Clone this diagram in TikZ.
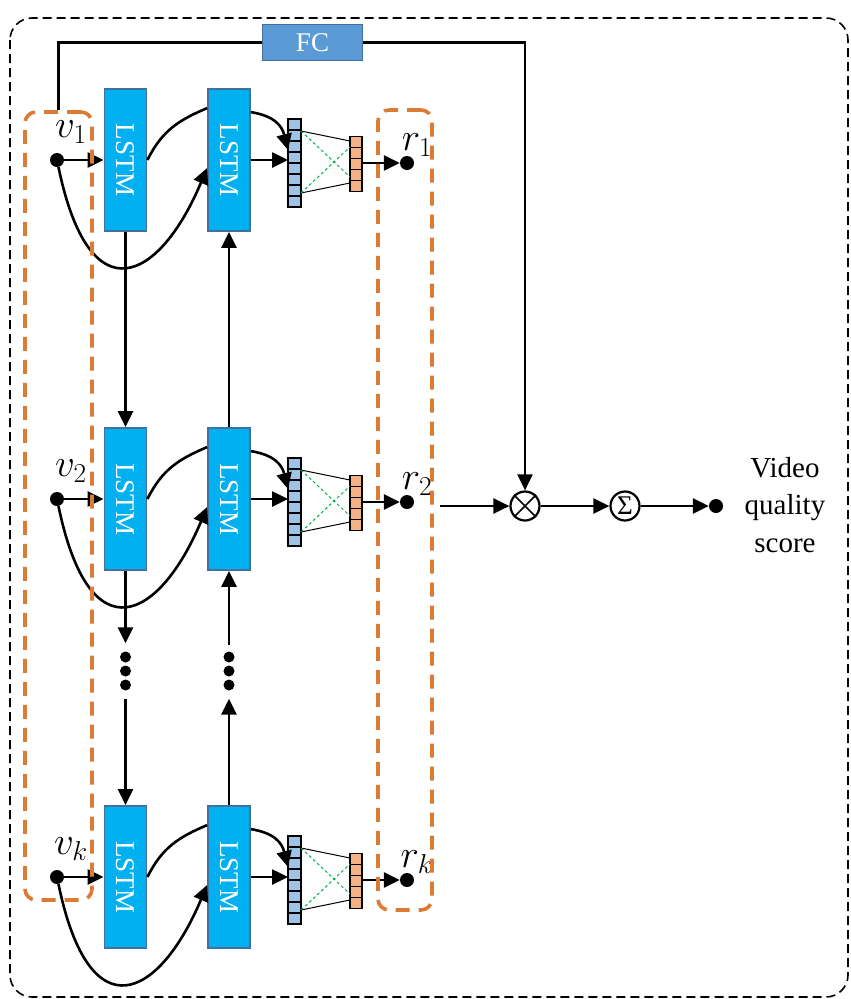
\RequirePackage{fix-cm}
\documentclass[tikz,border=0pt]{standalone}
\usepackage{fontspec}
\setmainfont{Liberation Serif}
\usetikzlibrary{arrows.meta,calc}
\definecolor{lstmfill}{HTML}{00B0F0}
\definecolor{lstmdraw}{HTML}{41719C}
\definecolor{fcfill}{HTML}{5B9BD5}
\definecolor{vecblue}{HTML}{9DC3E6}
\definecolor{vecorange}{HTML}{F4B183}
\definecolor{dashorange}{HTML}{DD7A33}
\definecolor{netgreen}{HTML}{00B050}
\begin{document}
\begin{tikzpicture}[x=1pt,y=-1pt,
  lstm/.style={draw=lstmdraw, line width=1.8pt, fill=lstmfill, minimum width=42pt, minimum height=142pt, inner sep=0pt, text=white, font=\fontsize{27}{27}\selectfont},
  fcbox/.style={draw=lstmdraw, line width=1.5pt, fill=fcfill, minimum width=100pt, minimum height=36pt, inner sep=0pt, text=white, font=\fontsize{27}{27}\selectfont},
  conn/.style={line width=2.6pt, -{Triangle[length=16pt,width=15pt]}},
  wire/.style={line width=2.6pt},
  bigdot/.style={circle, fill=black, inner sep=0pt, minimum size=14pt},
  smalldot/.style={circle, fill=black, inner sep=0pt, minimum size=11pt},
  vecbox/.style={inner sep=0pt, outer sep=0pt},
  cell/.style={draw=black, line width=1.6pt},
  thinline/.style={line width=1pt},
  greendash/.style={draw=netgreen, line width=1pt, dash pattern=on 3pt off 2.5pt},
  obox/.style={draw=dashorange, line width=3.6pt, dash pattern=on 14pt off 9pt, rounded corners=11pt, inner sep=0pt},
  mathlbl/.style={font=\fontsize{30}{30}\selectfont, inner sep=0pt},
  opcircle/.style={circle, draw=black, line width=2.2pt, minimum size=29pt, inner sep=0pt}
]
\useasboundingbox (0,0) rectangle (851,999);
\draw[line width=1.6pt, dash pattern=on 9pt off 5pt, rounded corners=22pt] (10,18) rectangle (848,997);

\foreach \r/\c/\vn/\rn in {1/160/v_1/r_1, 2/499/v_2/r_2, 3/877/v_k/r_k} {
  \node[lstm] (L\r1) at (125.5,\c) {\rotatebox{-90}{LSTM}};
  \node[lstm] (L\r2) at (229,\c) {\rotatebox{-90}{LSTM}};
  \node[bigdot] (V\r) at (57,\c) {};
  \node[mathlbl] (VL\r) at (71,{\c-28}) {\scalebox{1.3}{$\vn$}};
  \node[vecbox, minimum width=13pt, minimum height=88pt] (B\r) at (294.5,{\c+3}) {};
  \foreach \i in {0,...,7} \draw[cell, fill=vecblue] (288,{\c+3-44+11*\i}) rectangle ++(13,11);
  \node[vecbox, minimum width=12pt, minimum height=55pt] (O\r) at (356,{\c+4}) {};
  \foreach \i in {0,...,4} \draw[cell, fill=vecorange] (350,{\c+4-27.5+11*\i}) rectangle ++(12,11);
  \draw[thinline] ($(B\r.north east)+(0,12)$) -- ($(O\r.north west)+(0,4.5)$);
  \draw[thinline] ($(B\r.south east)+(0,-14)$) -- ($(O\r.south west)+(0,-8.5)$);
  \draw[greendash] ($(B\r.north east)+(0,12)$) -- ($(O\r.south west)+(0,-14.5)$);
  \draw[greendash] ($(B\r.south east)+(0,-14)$) -- ($(O\r.north west)+(0,10.5)$);
  \node[bigdot] (R\r) at (407,{\c+3}) {};
  \node[mathlbl] (RL\r) at (417,{\c-15}) {\scalebox{1.3}{$\rn$}};
  \draw[conn] (V\r) -- (L\r1.west);
  \draw[conn] (L\r2.east) -- (L\r2.east -| B\r.west);
  \draw[conn] (O\r.east |- R\r) -- (R\r);
  \draw[wire] (L\r1.east) .. controls +(15,-30) and +(-28,12) .. ($(L\r2.north west)+(0,20)$);
  \draw[conn] ($(L\r2.north east)+(0,24)$) .. controls +(24,4) and +(-6,-24) .. ($(B\r.west)+(0,-13)$);
  \draw[conn] (V\r) .. controls +(33,159) and +(-47,112) .. ($(L\r2.west)+(0,8)$);
}

\foreach \y [count=\k] in {657,671,685} {
  \node[smalldot] (DA\k) at (125.5,\y) {};
  \node[smalldot] (DB\k) at (229,\y) {};
}
\draw[conn] (L11.south) -- (L21.north);
\draw[conn] (L21.south) -- ($(DA1.north)+(0,-8)$);
\draw[conn] ($(DA3.south)+(0,8)$) -- (L31.north);
\draw[conn] (L32.north) -- ($(DB3.south)+(0,8)$);
\draw[conn] ($(DB1.north)+(0,-6)$) -- (L22.south);
\draw[conn] (L22.north) -- (L12.south);

\node[opcircle] (MUL) at (525,506) {};
\draw[line width=1.6pt] (MUL.north east) -- (MUL.south west) (MUL.north west) -- (MUL.south east);
\node[opcircle, font=\fontsize{27}{27}\selectfont] (SUM) at (625,506) {\raisebox{1pt}{Σ}};
\node[bigdot] (OUT) at (716,506) {};
\node[align=center, font=\fontsize{29}{37.5}\selectfont] (TXT) at (785,505) {Video\\quality\\score};
\coordinate (IN) at (440,506);
\draw[conn] (IN) -- (MUL);
\draw[conn] (MUL) -- (SUM);
\draw[conn] (SUM) -- (OUT);

\node[obox, minimum width=67pt, minimum height=788pt] (VB) at (58.5,506) {};
\node[obox, minimum width=54pt, minimum height=800pt] (RB) at (405,510) {};

\node[fcbox] (FC) at (312.5,42.5) {FC};
\draw[wire] (VB.north) |- (FC.west);
\draw[conn] (FC.east) -| (MUL.north);
\end{tikzpicture}
\end{document}
